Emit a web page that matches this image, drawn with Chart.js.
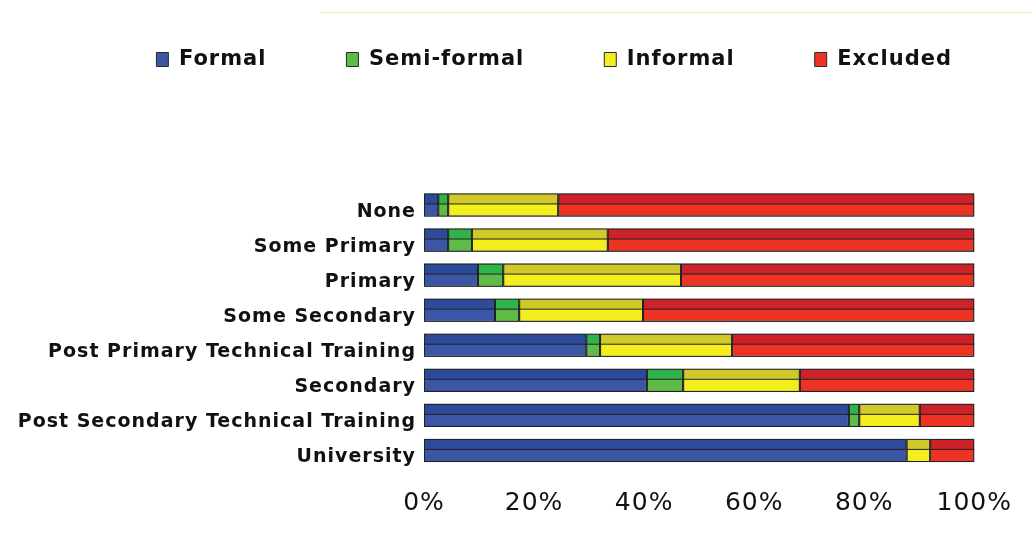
<!DOCTYPE html>
<html>
<head>
<meta charset="utf-8">
<script src="https://cdn.jsdelivr.net/npm/chart.js@4"></script>
<style>
  body { margin: 0; background: #fff; }
  #wrap { position: relative; width: 1032px; height: 542px; }
  #topline { position: absolute; left: 320px; right: 0; top: 12px; border-top: 1px solid #fbe8a6; }
</style>
</head>
<body>
<div id="wrap">
  <div id="topline"></div>
  <canvas id="eduChart" width="1032" height="542"></canvas>
</div>
<script>
// categories, top to bottom
const levels = [
  "None",
  "Some Primary",
  "Primary",
  "Some Secondary",
  "Post Primary Technical Training",
  "Secondary",
  "Post Secondary Technical Training",
  "University"
];

// shares in percent
const formal     = [2.6, 4.4, 9.8, 12.9, 29.5, 40.5, 77.2, 87.7];
const semiFormal = [1.8, 4.3, 4.6, 4.4, 2.5, 6.6, 1.9, 0];
const informal   = [20.0, 24.7, 32.3, 22.5, 24.0, 21.2, 11.0, 4.3];
const excluded   = [75.6, 66.6, 53.3, 60.2, 44.0, 31.7, 9.9, 8.0];

const xTicks = [0, 20, 40, 60, 80, 100];

const fills = ["#3a56a5", "#5dbb46", "#f5ee1d", "#ee3324"];
const tops  = ["#2e4a9a", "#2fb34a", "#cfc92a", "#cd2229"];

// darker strip on the upper part of each bar (the old 3D look)
const barShade = {
  id: 'barShade',
  afterDatasetsDraw(chart) {
    const ctx = chart.ctx;
    chart.data.datasets.forEach((ds, i) => {
      const meta = chart.getDatasetMeta(i);
      meta.data.forEach(el => {
        const { x, y, base, height } = el.getProps(['x', 'y', 'base', 'height'], true);
        const w = x - base;
        if (w <= 0) return;
        const top = y - height / 2;
        const strip = Math.round(height * 0.42);
        ctx.save();
        ctx.fillStyle = tops[i];
        ctx.fillRect(base + 0.5, top + 0.5, w - 1, strip);
        ctx.strokeStyle = '#222';
        ctx.lineWidth = 1;
        ctx.beginPath();
        ctx.moveTo(base, top + strip + 0.5);
        ctx.lineTo(x, top + strip + 0.5);
        ctx.stroke();
        ctx.strokeRect(base + 0.5, top + 0.5, w - 1, height - 1);
        ctx.restore();
      });
    });
  }
};

// text in the original is a bit wider than DejaVu, loosen it a little
const wideText = {
  id: 'wideText',
  afterInit(chart) { chart.ctx.letterSpacing = '1px'; },
  beforeUpdate(chart) { chart.ctx.letterSpacing = '1px'; },
  beforeDraw(chart) { chart.ctx.letterSpacing = '1px'; }
};

// leave room under the legend, and let it use the full width
const legendRoom = {
  id: 'legendRoom',
  beforeInit(chart) {
    const origFit = chart.legend.fit;
    chart.legend.fit = function () {
      origFit.bind(chart.legend)();
      this.height = 218.5;
    };
  },
  afterLayout(chart) {
    chart.legend.left = 0;
    chart.legend.right = chart.width;
    chart.legend.width = chart.width;
  }
};

const names = ["Formal", "Semi-formal", "Informal", "Excluded"];
const series = [formal, semiFormal, informal, excluded];

new Chart(document.getElementById('eduChart'), {
  type: 'bar',
  data: {
    labels: levels,
    datasets: series.map((vals, i) => ({
      label: names[i],
      data: vals,
      backgroundColor: fills[i],
      borderColor: '#2a2a2a',
      borderWidth: 1,
      borderSkipped: false,
      barPercentage: 0.66,
      categoryPercentage: 1
    }))
  },
  options: {
    indexAxis: 'y',
    responsive: false,
    animation: false,
    layout: { padding: { top: -31, right: 57, bottom: 0, left: 0 } },
    plugins: {
      legend: {
        position: 'top',
        align: 'end',
        labels: {
          boxWidth: 12,
          boxHeight: 14,
          padding: 80,
          color: '#111',
          font: { family: 'DejaVu Sans', size: 21, weight: 'bold' }
        }
      },
      tooltip: { enabled: false }
    },
    scales: {
      x: {
        stacked: true,
        min: 0,
        max: 100,
        grid: { display: false, drawTicks: false },
        border: { display: false },
        afterBuildTicks(scale) {
          scale.ticks = xTicks.map(v => ({ value: v }));
        },
        afterFit(scale) { scale.height = 74; },
        ticks: {
          padding: 20,
          color: '#111',
          font: { family: 'DejaVu Sans', size: 25 },
          callback: v => v + '%'
        }
      },
      y: {
        stacked: true,
        grid: { display: false, drawTicks: false },
        border: { display: false },
        afterFit(scale) { scale.width = 424; },
        ticks: {
          padding: 8,
          labelOffset: 7,
          color: '#111',
          font: { family: 'DejaVu Sans', size: 19, weight: 'bold' }
        }
      }
    }
  },
  plugins: [wideText, barShade, legendRoom]
});
</script>
</body>
</html>
